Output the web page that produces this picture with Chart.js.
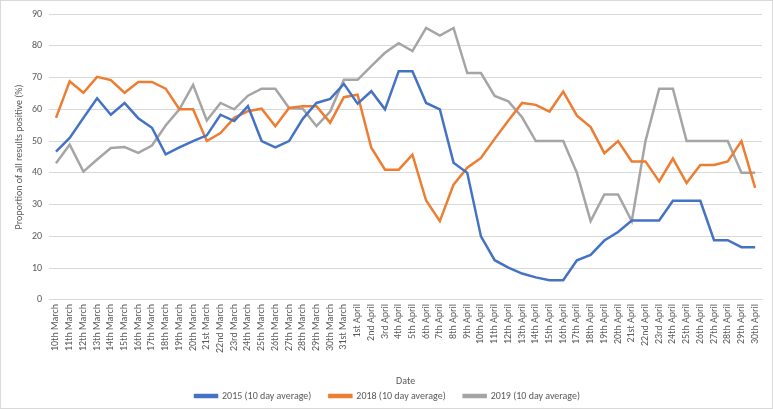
<!DOCTYPE html>
<html><head><meta charset="utf-8">
<script src="https://cdn.jsdelivr.net/npm/chart.js@4"></script>
<style>
html,body{margin:0;padding:0;background:#fff;}
#wrap{position:absolute;left:0;top:0;width:773px;height:409px;box-sizing:border-box;border:1px solid #d9d9d9;}
canvas{display:block;}
</style></head><body>
<div id="wrap"><canvas id="c" width="771" height="407"></canvas></div>
<script>
const categories = ["10th March","11th March","12th March","13th March","14th March","15th March","16th March","17th March","18th March","19th March","20th March","21st March","22nd March","23rd March","24th March","25th March","26th March","27th March","28th March","29th March","30th March","31st March","1st April","2nd April","3rd April","4th April","5th April","6th April","7th April","8th April","9th April","10th April","11th April","12th April","13th April","14th April","15th April","16th April","17th April","18th April","19th April","20th April","21st April","22nd April","23rd April","24th April","25th April","26th April","27th April","28th April","29th April","30th April"];
const series2015 = [46.7,51,57.3,63.5,58.3,62,57.2,54.2,45.8,48,50,51.8,58.3,56.3,61,50,48,50,57,62,63.3,68,61.8,65.7,60,72,72,62,60,43.2,40,20,12.5,10.2,8.3,7.1,6.2,6.2,12.5,14.2,18.7,21.4,25,25,25,31.2,31.2,31.2,18.8,18.8,16.6,16.6];
const series2018 = [57.3,68.8,65.2,70.2,69.2,65.2,68.6,68.6,66.5,60,60,50,52.5,57.3,59.4,60.2,54.7,60.4,61,61,55.8,63.8,64.6,47.9,41,41,45.7,31.3,24.8,36.3,41.6,44.7,50.7,56.5,62,61.4,59.3,65.6,58,54.4,46.2,50,43.6,43.6,37.3,44.5,36.8,42.5,42.5,43.6,50,35.3];
const series2019 = [43,48.9,40.4,44.2,47.8,48.1,46.3,48.6,54.9,60,67.7,56.5,62,60,64.3,66.5,66.5,60.4,60.2,54.7,59.3,69.3,69.3,73.6,77.8,80.8,78.3,85.6,83.2,85.6,71.4,71.4,64.2,62.5,57.5,50,50,50,40,24.8,33.2,33.2,24.8,50,66.5,66.5,50,50,50,50,40,40];
const seriesNames = ["2015 (10 day average)","2018 (10 day average)","2019 (10 day average)"];
const yTicks = {min:0,max:90,step:10};

const FONT = "Carlito, Lato, 'Liberation Sans', sans-serif";
const TXT = "#595959";
Chart.defaults.font.family = FONT;
Chart.defaults.color = TXT;

const LEGEND_PAD = 18;     // horizontal gap between legend items
const LEGEND_TOP_GAP = 4;  // vertical gap above legend text
const LEGEND_BOTTOM_GAP = 7;

const mk = (label, data, color) => ({label, data, borderColor: color, backgroundColor: color, borderWidth: 2.5, pointRadius: 0, tension: 0, fill: false});

const legendTweak = {
  id: 'legendTweak',
  afterInit(chart) {
    const L = chart.legend;
    if (!L) return;
    const origFit = L.fit.bind(L);
    L.fit = function () {
      origFit();
      const fs = this.options.labels.font.size || 10;
      this.height = LEGEND_TOP_GAP + fs + LEGEND_BOTTOM_GAP;
    };
    const origDraw = L._draw.bind(L);
    L._draw = function () {
      const t = this.top;
      this.top = t - (LEGEND_PAD - LEGEND_TOP_GAP);
      origDraw();
      this.top = t;
    };
  }
};

new Chart(document.getElementById('c'), {
  type: 'line',
  data: {
    labels: categories,
    datasets: [
      mk(seriesNames[0], series2015, '#4472C4'),
      mk(seriesNames[1], series2018, '#ED7D31'),
      mk(seriesNames[2], series2019, '#A5A5A5')
    ]
  },
  options: {
    responsive: false,
    animation: false,
    devicePixelRatio: 1,
    layout: {padding: {left: 12, right: 10, top: 5, bottom: 0}},
    plugins: {
      legend: {
        position: 'bottom',
        labels: {boxWidth: 22, boxHeight: 2, font: {size: 10}, color: TXT, padding: LEGEND_PAD},
        align: 'center'
      },
      tooltip: {enabled: false}
    },
    scales: {
      x: {
        offset: true,
        grid: {display: false, drawTicks: false},
        border: {color: '#d9d9d9'},
        ticks: {autoSkip: false, maxRotation: 90, minRotation: 90, font: {size: 10}, color: TXT, padding: 4},
        title: {display: true, text: 'Date', font: {size: 10}, color: TXT, padding: {top: 18, bottom: 0}}
      },
      y: {
        min: yTicks.min, max: yTicks.max,
        grid: {color: '#d9d9d9', drawTicks: false},
        border: {display: false},
        ticks: {stepSize: yTicks.step, font: {size: 10}, color: TXT, padding: 7},
        title: {display: true, text: 'Proportion of all results positive (%)', font: {size: 10}, color: TXT, padding: {top: 0, bottom: 0}}
      }
    }
  },
  plugins: [legendTweak]
});
</script>
</body></html>
